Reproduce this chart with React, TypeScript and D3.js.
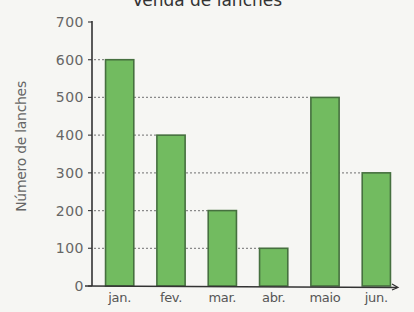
import React from "react";
import * as d3 from "d3";

const months = ["jan.", "fev.", "mar.", "abr.", "maio", "jun."];
const sales = [600, 400, 200, 100, 500, 300];
const yTicks = [0, 100, 200, 300, 400, 500, 600, 700];
const title = "Venda de lanches";
const yTitle = "Número de lanches";

const W = 414;
const H = 312;

export default function App() {
  const x = d3.scaleBand<string>().domain(months).range([94, 402]).paddingInner(0.45).paddingOuter(0.225);
  const y = d3.scaleLinear().domain([0, 700]).range([286, 22]);
  const axisX = 92;
  const font = "'DejaVu Sans', 'Liberation Sans', Arial, sans-serif";
  return (
    <svg width={W} height={H} style={{ position: "absolute", left: 0, top: 0, background: "#f6f6f3" }}>
      <rect x={0} y={0} width={W} height={H} fill="#f6f6f3" />
      <text x={207} y={6} textAnchor="middle" fontFamily={font} fontSize={17} fill="#333">{title}</text>
      <text transform={`translate(26,${y(370)}) rotate(-90)`} textAnchor="middle" fontFamily={font} fontSize={14} letterSpacing={-0.3} fill="#666">{yTitle}</text>
      {yTicks.map((t) => (
        <g key={t}>
          <line x1={axisX - 4} x2={axisX} y1={y(t)} y2={y(t)} stroke="#444" strokeWidth={1.2} />
          <text x={axisX - 8} y={y(t) + 5} textAnchor="end" fontFamily={font} fontSize={14} letterSpacing={0.5} fill="#666">{t}</text>
        </g>
      ))}
      {months.map((m, i) => (
        <line key={"g" + m} x1={axisX + 2} x2={x(m)!} y1={y(sales[i])} y2={y(sales[i])} stroke="#8a8a8a" strokeWidth={1.3} strokeDasharray="2,2" />
      ))}
      {months.map((m, i) => (
        <rect key={m} x={x(m)!} y={y(sales[i])} width={x.bandwidth()} height={y(0) - y(sales[i])} fill="#72bb60" stroke="#46703f" strokeWidth={1.6} />
      ))}
      <line x1={axisX} x2={axisX} y1={y(700) - 1} y2={y(0)} stroke="#333" strokeWidth={1.6} />
      <line x1={85} x2={397} y1={y(0)} y2={y(0) + 1.5} stroke="#333" strokeWidth={1.6} />
      <path d={`M392,${y(0) - 2} L398,${y(0) + 1.5} L392,${y(0) + 4}`} fill="none" stroke="#333" strokeWidth={1.2} />
      {months.map((m) => (
        <text key={"l" + m} x={x(m)! + x.bandwidth() / 2} y={302} textAnchor="middle" fontFamily={font} fontSize={13} letterSpacing={-0.3} fill="#555">{m}</text>
      ))}
    </svg>
  );
}
